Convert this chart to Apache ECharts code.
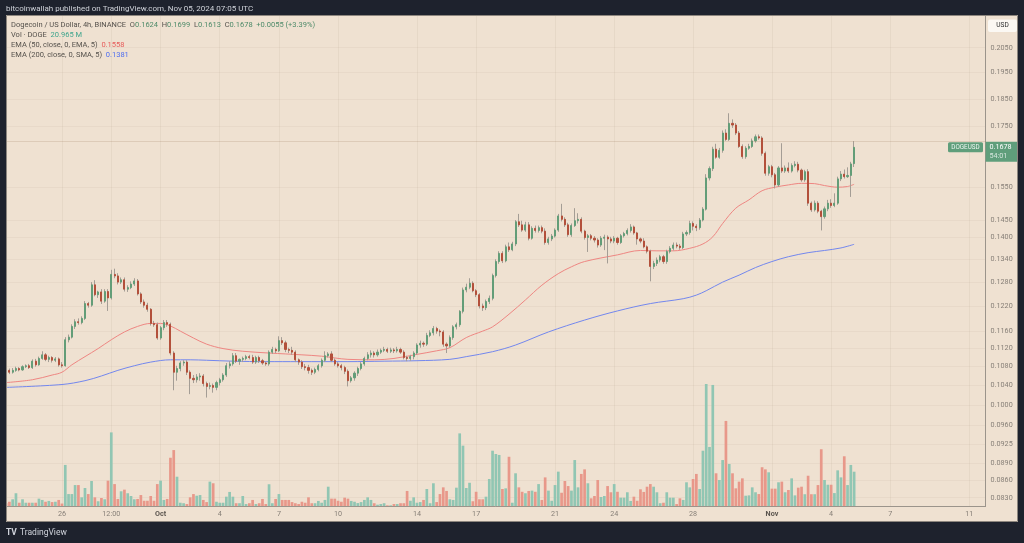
<!DOCTYPE html>
<html><head><meta charset="utf-8">
<script src="https://cdn.jsdelivr.net/npm/echarts@6/dist/echarts.min.js"></script>
<style>html,body{margin:0;padding:0;background:#1e222d;}#c{width:1024px;height:543px;}</style>
</head><body><div id="c"></div>
<script>
// ---------- DATA ----------
const firstBarUTC = Date.UTC(2024, 8, 23, 4, 0); // first 4h bar: 2024-09-23 04:00 UTC
const barHours = 4;
const categoryCount = 299; // axis runs to ~2024-11-12
// [open, high, low, close] per 4h bar
const candles = [
[0.1089,0.1092,0.1068,0.1072],[0.1072,0.1076,0.1064,0.1068],[0.1068,0.1077,0.1065,0.1072],[0.1072,0.1080,0.1069,0.1076],[0.1076,0.1079,0.1070,0.1073],
[0.1073,0.1083,0.1071,0.1080],[0.1080,0.1085,0.1077,0.1082],[0.1082,0.1086,0.1075,0.1078],[0.1078,0.1096,0.1075,0.1092],[0.1092,0.1097,0.1080,0.1084],
[0.1084,0.1102,0.1082,0.1098],[0.1098,0.1114,0.1095,0.1106],[0.1106,0.1110,0.1092,0.1096],[0.1096,0.1104,0.1090,0.1100],[0.1100,0.1103,0.1089,0.1094],
[0.1094,0.1101,0.1090,0.1097],[0.1097,0.1100,0.1080,0.1084],[0.1084,0.1090,0.1078,0.1082],[0.1082,0.1146,0.1080,0.1140],[0.1140,0.1152,0.1134,0.1146],
[0.1146,0.1176,0.1143,0.1171],[0.1171,0.1188,0.1165,0.1182],[0.1182,0.1190,0.1175,0.1180],[0.1180,0.1195,0.1176,0.1190],[0.1190,0.1232,0.1186,0.1226],
[0.1226,0.1230,0.1216,0.1222],[0.1222,0.1280,0.1218,0.1273],[0.1273,0.1285,0.1244,0.1248],[0.1248,0.1258,0.1240,0.1255],[0.1255,0.1262,0.1225,0.1232],
[0.1232,0.1262,0.1228,0.1256],[0.1256,0.1262,0.1208,0.1240],[0.1240,0.1312,0.1236,0.1300],[0.1300,0.1315,0.1290,0.1296],[0.1296,0.1303,0.1274,0.1280],
[0.1280,0.1292,0.1275,0.1286],[0.1286,0.1292,0.1256,0.1262],[0.1262,0.1272,0.1255,0.1266],[0.1266,0.1282,0.1262,0.1275],[0.1275,0.1290,0.1270,0.1283],
[0.1283,0.1288,0.1246,0.1250],[0.1250,0.1254,0.1225,0.1230],[0.1230,0.1236,0.1216,0.1222],[0.1222,0.1228,0.1206,0.1212],[0.1212,0.1215,0.1173,0.1178],
[0.1178,0.1184,0.1170,0.1175],[0.1175,0.1180,0.1140,0.1144],[0.1144,0.1172,0.1140,0.1168],[0.1168,0.1186,0.1162,0.1180],[0.1180,0.1186,0.1170,0.1176],
[0.1176,0.1180,0.1105,0.1110],[0.1110,0.1114,0.1030,0.1068],[0.1068,0.1082,0.1050,0.1076],[0.1076,0.1092,0.1070,0.1088],[0.1088,0.1094,0.1082,0.1090],
[0.1090,0.1094,0.1062,0.1068],[0.1068,0.1072,0.1022,0.1055],[0.1055,0.1062,0.1045,0.1052],[0.1052,0.1064,0.1046,0.1058],[0.1058,0.1066,0.1050,0.1060],
[0.1060,0.1064,0.1038,0.1044],[0.1044,0.1048,0.1015,0.1038],[0.1038,0.1046,0.1032,0.1040],[0.1040,0.1044,0.1025,0.1036],[0.1036,0.1050,0.1030,0.1046],
[0.1046,0.1056,0.1040,0.1052],[0.1052,0.1066,0.1048,0.1062],[0.1062,0.1088,0.1058,0.1082],[0.1082,0.1092,0.1076,0.1086],[0.1086,0.1110,0.1082,0.1104],
[0.1104,0.1110,0.1088,0.1092],[0.1092,0.1098,0.1084,0.1096],[0.1096,0.1102,0.1090,0.1098],[0.1098,0.1106,0.1094,0.1102],[0.1102,0.1106,0.1096,0.1100],
[0.1100,0.1106,0.1086,0.1090],[0.1090,0.1104,0.1086,0.1100],[0.1100,0.1104,0.1088,0.1093],[0.1093,0.1097,0.1084,0.1088],[0.1088,0.1092,0.1082,0.1086],
[0.1086,0.1116,0.1082,0.1112],[0.1112,0.1124,0.1108,0.1118],[0.1118,0.1122,0.1110,0.1115],[0.1115,0.1148,0.1112,0.1138],[0.1138,0.1146,0.1128,0.1133],
[0.1133,0.1138,0.1112,0.1118],[0.1118,0.1122,0.1110,0.1116],[0.1116,0.1124,0.1106,0.1112],[0.1112,0.1116,0.1090,0.1095],[0.1095,0.1098,0.1084,0.1090],
[0.1090,0.1094,0.1075,0.1080],[0.1080,0.1086,0.1072,0.1078],[0.1078,0.1084,0.1065,0.1072],[0.1072,0.1076,0.1062,0.1068],[0.1068,0.1078,0.1064,0.1074],
[0.1074,0.1086,0.1070,0.1082],[0.1082,0.1098,0.1078,0.1094],[0.1094,0.1114,0.1090,0.1104],[0.1104,0.1112,0.1100,0.1108],[0.1108,0.1114,0.1090,0.1094],
[0.1094,0.1098,0.1082,0.1086],[0.1086,0.1090,0.1078,0.1082],[0.1082,0.1086,0.1072,0.1078],[0.1078,0.1082,0.1064,0.1070],[0.1070,0.1074,0.1038,0.1050],
[0.1050,0.1060,0.1046,0.1056],[0.1056,0.1070,0.1050,0.1066],[0.1066,0.1080,0.1060,0.1076],[0.1076,0.1090,0.1072,0.1086],[0.1086,0.1102,0.1082,0.1098],
[0.1098,0.1112,0.1094,0.1106],[0.1106,0.1116,0.1100,0.1110],[0.1110,0.1114,0.1100,0.1106],[0.1106,0.1118,0.1102,0.1112],[0.1112,0.1120,0.1108,0.1116],
[0.1116,0.1124,0.1112,0.1118],[0.1118,0.1122,0.1110,0.1114],[0.1114,0.1122,0.1110,0.1117],[0.1117,0.1121,0.1110,0.1115],[0.1115,0.1124,0.1111,0.1118],
[0.1118,0.1122,0.1108,0.1112],[0.1112,0.1116,0.1096,0.1100],[0.1100,0.1104,0.1092,0.1098],[0.1098,0.1106,0.1093,0.1102],[0.1102,0.1114,0.1096,0.1110],
[0.1110,0.1132,0.1106,0.1128],[0.1128,0.1138,0.1122,0.1132],[0.1132,0.1136,0.1124,0.1130],[0.1130,0.1156,0.1126,0.1150],[0.1150,0.1162,0.1146,0.1156],
[0.1156,0.1172,0.1150,0.1166],[0.1166,0.1170,0.1154,0.1160],[0.1160,0.1164,0.1148,0.1158],[0.1158,0.1162,0.1124,0.1130],[0.1130,0.1134,0.1110,0.1126],
[0.1126,0.1150,0.1122,0.1145],[0.1145,0.1174,0.1140,0.1170],[0.1170,0.1180,0.1164,0.1175],[0.1175,0.1210,0.1170,0.1207],[0.1207,0.1266,0.1202,0.1260],
[0.1260,0.1276,0.1254,0.1267],[0.1267,0.1290,0.1262,0.1277],[0.1277,0.1282,0.1254,0.1258],[0.1258,0.1262,0.1242,0.1248],[0.1248,0.1252,0.1214,0.1220],
[0.1220,0.1226,0.1208,0.1216],[0.1216,0.1236,0.1210,0.1231],[0.1231,0.1246,0.1225,0.1239],[0.1239,0.1302,0.1234,0.1297],[0.1297,0.1340,0.1292,0.1334],
[0.1334,0.1362,0.1328,0.1356],[0.1356,0.1362,0.1330,0.1336],[0.1336,0.1380,0.1332,0.1374],[0.1374,0.1386,0.1360,0.1366],[0.1366,0.1388,0.1362,0.1382],
[0.1382,0.1450,0.1376,0.1445],[0.1445,0.1468,0.1430,0.1436],[0.1436,0.1448,0.1416,0.1421],[0.1421,0.1445,0.1416,0.1436],[0.1436,0.1444,0.1392,0.1398],
[0.1398,0.1432,0.1394,0.1426],[0.1426,0.1434,0.1414,0.1420],[0.1420,0.1434,0.1414,0.1428],[0.1428,0.1434,0.1412,0.1418],[0.1418,0.1426,0.1380,0.1386],
[0.1386,0.1402,0.1380,0.1396],[0.1396,0.1410,0.1390,0.1404],[0.1404,0.1426,0.1400,0.1421],[0.1421,0.1468,0.1416,0.1462],[0.1462,0.1498,0.1446,0.1452],
[0.1452,0.1458,0.1430,0.1436],[0.1436,0.1442,0.1402,0.1408],[0.1408,0.1440,0.1402,0.1434],[0.1434,0.1485,0.1430,0.1448],[0.1448,0.1470,0.1440,0.1452],
[0.1452,0.1458,0.1412,0.1418],[0.1418,0.1422,0.1394,0.1400],[0.1400,0.1410,0.1360,0.1405],[0.1405,0.1410,0.1392,0.1398],[0.1398,0.1404,0.1386,0.1393],
[0.1393,0.1398,0.1372,0.1379],[0.1379,0.1404,0.1374,0.1398],[0.1398,0.1408,0.1365,0.1401],[0.1401,0.1406,0.1329,0.1396],[0.1396,0.1402,0.1384,0.1390],
[0.1390,0.1404,0.1384,0.1398],[0.1398,0.1402,0.1380,0.1386],[0.1386,0.1410,0.1382,0.1405],[0.1405,0.1416,0.1400,0.1411],[0.1411,0.1426,0.1406,0.1420],
[0.1420,0.1438,0.1414,0.1430],[0.1430,0.1434,0.1408,0.1413],[0.1413,0.1416,0.1380,0.1396],[0.1396,0.1400,0.1384,0.1390],[0.1390,0.1398,0.1370,0.1374],
[0.1374,0.1378,0.1356,0.1362],[0.1362,0.1366,0.1282,0.1321],[0.1321,0.1336,0.1314,0.1329],[0.1329,0.1345,0.1322,0.1338],[0.1338,0.1352,0.1332,0.1347],
[0.1347,0.1352,0.1328,0.1334],[0.1334,0.1366,0.1328,0.1361],[0.1361,0.1376,0.1356,0.1370],[0.1370,0.1386,0.1364,0.1379],[0.1379,0.1386,0.1370,0.1376],
[0.1376,0.1382,0.1366,0.1372],[0.1372,0.1416,0.1368,0.1410],[0.1410,0.1420,0.1404,0.1414],[0.1414,0.1448,0.1408,0.1440],[0.1440,0.1446,0.1420,0.1432],
[0.1432,0.1438,0.1418,0.1428],[0.1428,0.1456,0.1422,0.1450],[0.1450,0.1488,0.1446,0.1482],[0.1482,0.1590,0.1478,0.1578],[0.1578,0.1615,0.1570,0.1608],
[0.1608,0.1680,0.1600,0.1672],[0.1672,0.1690,0.1640,0.1645],[0.1645,0.1676,0.1640,0.1668],[0.1668,0.1736,0.1660,0.1727],[0.1727,0.1740,0.1700,0.1705],
[0.1705,0.1797,0.1700,0.1761],[0.1761,0.1775,0.1745,0.1755],[0.1755,0.1762,0.1720,0.1727],[0.1727,0.1734,0.1676,0.1681],[0.1681,0.1688,0.1640,0.1647],
[0.1647,0.1682,0.1640,0.1675],[0.1675,0.1690,0.1670,0.1681],[0.1681,0.1708,0.1676,0.1700],[0.1700,0.1722,0.1694,0.1714],[0.1714,0.1722,0.1704,0.1710],
[0.1710,0.1716,0.1650,0.1658],[0.1658,0.1664,0.1585,0.1593],[0.1593,0.1620,0.1585,0.1614],[0.1614,0.1620,0.1580,0.1588],[0.1588,0.1594,0.1545,0.1556],
[0.1556,0.1616,0.1550,0.1610],[0.1610,0.1692,0.1594,0.1600],[0.1600,0.1618,0.1594,0.1610],[0.1610,0.1628,0.1594,0.1600],[0.1600,0.1625,0.1595,0.1618],
[0.1618,0.1632,0.1612,0.1622],[0.1622,0.1630,0.1596,0.1603],[0.1603,0.1608,0.1566,0.1572],[0.1572,0.1604,0.1566,0.1598],[0.1598,0.1606,0.1492,0.1500],
[0.1500,0.1505,0.1474,0.1480],[0.1480,0.1508,0.1475,0.1500],[0.1500,0.1506,0.1470,0.1476],[0.1476,0.1480,0.1420,0.1460],[0.1460,0.1490,0.1454,0.1483],
[0.1483,0.1510,0.1476,0.1500],[0.1500,0.1512,0.1486,0.1493],[0.1493,0.1530,0.1488,0.1500],[0.1500,0.1582,0.1495,0.1575],[0.1575,0.1600,0.1568,0.1590],
[0.1590,0.1605,0.1576,0.1582],[0.1582,0.1612,0.1578,0.1586],[0.1586,0.1630,0.1519,0.1623],[0.1624,0.1699,0.1613,0.1678]
];
// volume per bar, millions of DOGE
const volumes = [
1.7,2.6,4.1,7.8,2.0,4.1,2.0,2.0,2.0,2.0, 4.5,3.7,2.6,3.1,2.4,2.6,3.7,1.5,25.1,7.3,
7.3,12.8,12.8,5.3,11.0,7.3,15.3,5.3,2.9,4.9, 4.1,15.5,45.0,13.4,4.3,9.0,10.0,7.8,6.1,4.1,
4.3,6.7,3.2,3.2,6.1,3.2,13.4,15.5,3.7,4.3, 29.5,34.2,17.9,2.0,1.7,1.2,5.3,7.3,6.3,6.7,
3.7,2.4,14.9,13.9,2.6,2.0,2.0,5.7,8.6,5.7, 1.7,1.7,6.1,1.2,1.7,3.7,1.2,1.7,4.3,1.2,
13.3,1.7,4.3,7.3,3.7,3.7,3.7,2.4,1.7,1.2, 2.6,2.0,5.3,1.7,1.7,3.1,2.0,3.7,11.8,4.5,
4.5,3.2,2.6,5.1,4.5,3.1,2.6,1.8,2.4,3.7, 5.3,3.7,1.7,0.8,1.2,1.7,0.4,0.4,1.2,1.2,
1.7,1.7,9.2,3.2,5.3,2.0,2.4,3.7,10.4,1.7, 13.9,2.4,7.3,11.4,9.2,4.1,3.7,11.2,44.4,36.9,
11.0,14.2,2.9,8.7,4.1,4.1,5.7,16.5,33.8,31.8, 31.2,10.4,10.8,30.1,2.0,20.0,11.4,8.7,7.8,9.2,
9.4,8.7,13.4,3.7,17.5,9.4,3.2,12.8,21.0,8.1, 15.3,12.2,9.4,28.1,11.4,19.6,22.4,13.9,4.7,6.1,
15.9,5.5,6.1,12.2,8.4,13.4,8.7,5.1,5.1,8.4, 3.1,5.7,3.2,10.2,8.6,11.8,13.4,11.8,8.4,1.7,
2.0,8.4,5.1,5.1,1.2,4.7,3.7,14.5,11.4,16.5, 19.6,10.4,33.8,74.6,36.1,74.0,20.0,15.9,28.1,52.0,
25.7,20.0,10.8,14.9,16.9,6.3,6.5,11.4,8.4,7.3, 23.7,22.4,20.6,10.6,10.6,14.5,14.9,8.4,9.8,16.9,
6.5,11.2,11.8,7.2,18.5,7.2,7.2,12.8,34.7,15.9, 13.0,13.0,7.9,21.8,17.5,30.4,12.8,25.1,20.965
];
// EMA lines: [bar index, value]
const ema50 = [[0,0.1046],[8,0.1052],[14,0.1062],[17,0.1068],[20,0.1084],[24,0.1102],[28,0.1120],[32,0.1140],[36,0.1158],[40,0.1171],[44,0.1178],[47,0.1178],[50,0.1172],[53,0.1160],[57,0.1144],[61,0.1130],[66,0.1120],[72,0.1114],[80,0.1110],[90,0.1106],[96,0.1103],[104,0.1096],[112,0.1095],[118,0.1098],[125,0.1107],[131,0.1115],[135,0.1122],[140,0.1145],[145,0.1160],[148,0.1170],[153,0.1200],[158,0.1235],[163,0.1272],[168,0.1302],[172,0.1320],[176,0.1334],[186,0.1352],[193,0.1364],[198,0.1363],[203,0.1363],[208,0.1370],[212,0.1382],[215,0.1402],[218,0.1440],[222,0.1485],[226,0.1510],[230,0.1538],[234,0.1549],[238,0.1556],[242,0.1561],[246,0.1560],[249,0.1554],[253,0.1549],[256,0.1551],[258,0.1558]];
const ema200 = [[0,0.1036],[17,0.1042],[24,0.1050],[29,0.1060],[34,0.1072],[39,0.1082],[44,0.1090],[50,0.1095],[56,0.1095],[61,0.1094],[69,0.1092],[79,0.1091],[89,0.1091],[104,0.1091],[115,0.1092],[125,0.1093],[135,0.1096],[140,0.1102],[148,0.1113],[155,0.1128],[165,0.1158],[176,0.1186],[186,0.1208],[196,0.1226],[206,0.1238],[210,0.1247],[213,0.1258],[218,0.1280],[223,0.1298],[228,0.1318],[233,0.1334],[238,0.1347],[244,0.1358],[249,0.1364],[254,0.1371],[258,0.1381]];
const priceTicks = [0.2050,0.1950,0.1850,0.1750,0.1550,0.1450,0.1400,0.1340,0.1280,0.1220,0.1160,0.1120,0.1080,0.1040,0.1000,0.0960,0.0925,0.0890,0.0860,0.0830];
const timeTicks = [['2024-09-26 00:00','26'],['2024-09-28 12:00','12:00'],['2024-10-01 00:00','Oct'],['2024-10-04 00:00','4'],['2024-10-07 00:00','7'],['2024-10-10 00:00','10'],['2024-10-14 00:00','14'],['2024-10-17 00:00','17'],['2024-10-21 00:00','21'],['2024-10-24 00:00','24'],['2024-10-28 00:00','28'],['2024-11-01 00:00','Nov'],['2024-11-04 00:00','4'],['2024-11-07 00:00','7'],['2024-11-11 00:00','11']];
const priceMin = 0.08163, priceMax = 0.21892;
const countdown = '54:01';

// ---------- STYLE ----------
const BG = '#efe1d1', DARK = '#1e222d';
const UP = '#639d78', DOWN = '#b3503b', WICK = '#a49d95';
const VUP = '#91c6b3', VDOWN = '#e8988a';
const TAG = '#5f9e7b';
const FONT = 'Roboto, "Noto Sans", sans-serif';

const pad = n => String(n).padStart(2, '0');
const cats = [];
for (let i = 0; i < categoryCount; i++) {
  const d = new Date(firstBarUTC + i * barHours * 3600000);
  cats.push(`${d.getUTCFullYear()}-${pad(d.getUTCMonth()+1)}-${pad(d.getUTCDate())} ${pad(d.getUTCHours())}:${pad(d.getUTCMinutes())}`);
}
const tickMap = new Map(timeTicks);
const isTick = (idx) => tickMap.has(cats[idx]);

const chart = echarts.init(document.getElementById('c'), null, {renderer: 'canvas', devicePixelRatio: 1});

const option = {
  backgroundColor: BG,
  animation: false,
  grid: [
    {left: 6.1, right: 38.4, top: 15, bottom: 37},
    {left: 6.1, right: 38.4, top: 356, bottom: 37}
  ],
  xAxis: [
    {type: 'category', gridIndex: 0, data: cats, boundaryGap: false,
     axisLine: {show: true, lineStyle: {color: '#9b948b', width: 1}},
     axisTick: {show: false},
     axisLabel: {interval: isTick, margin: 5, color: '#867f77', fontSize: 7.2, fontFamily: FONT,
       formatter: v => { const t = tickMap.get(v) || ''; return (t === 'Oct' || t === 'Nov') ? `{b|${t}}` : t; },
       rich: {b: {fontWeight: 'bold', color: '#5b554f', fontSize: 7.2, fontFamily: FONT}}},
     splitLine: {show: true, interval: isTick, lineStyle: {color: 'rgba(110,80,50,0.06)', width: 1}}},
    {type: 'category', gridIndex: 1, data: cats, boundaryGap: false, show: false}
  ],
  yAxis: [
    {type: 'log', gridIndex: 0, position: 'right', min: priceMin, max: priceMax,
     axisLine: {show: true, lineStyle: {color: '#9b948b', width: 1}},
     axisTick: {show: false, customValues: priceTicks},
     axisLabel: {customValues: priceTicks, formatter: v => Number(v).toFixed(4), margin: 5,
       color: '#867f77', fontSize: 7.2, fontFamily: FONT},
     splitLine: {show: true, lineStyle: {color: 'rgba(110,80,50,0.05)', width: 1}}},
    {type: 'value', gridIndex: 1, min: 0, max: 91.7, show: false, splitLine: {show: false}}
  ],
  series: [
    {type: 'bar', xAxisIndex: 1, yAxisIndex: 1, barWidth: 2.7, silent: true, z: 1,
     data: volumes.map((v, i) => ({value: v, itemStyle: {color: candles[i][3] >= candles[i][0] ? VUP : VDOWN}}))},
    {type: 'line', xAxisIndex: 0, yAxisIndex: 0, data: ema200, showSymbol: false, smooth: 0.35, silent: true, z: 2,
     lineStyle: {color: '#7387ee', width: 1}},
    {type: 'line', xAxisIndex: 0, yAxisIndex: 0, data: ema50, showSymbol: false, smooth: 0.35, silent: true, z: 2,
     lineStyle: {color: '#ee8682', width: 1}},
    {type: 'candlestick', xAxisIndex: 0, yAxisIndex: 0, barWidth: 1, silent: true, z: 3,
     data: candles.map(([o, h, l, c]) => [o, c, l, h]),
     itemStyle: {color: WICK, color0: WICK, borderColor: WICK, borderColor0: WICK, borderWidth: 1}},
    {type: 'candlestick', xAxisIndex: 0, yAxisIndex: 0, barWidth: 1.6, silent: true, z: 4,
     data: candles.map(([o, h, l, c]) => [o, c, Math.min(o, c), Math.max(o, c)]),
     itemStyle: {color: UP, color0: DOWN, borderColor: UP, borderColor0: DOWN, borderWidth: 1},
     markLine: {symbol: 'none', silent: true, label: {show: false},
       lineStyle: {color: 'rgba(150,115,85,0.2)', type: 'solid', width: 1},
       data: [{yAxis: candles[candles.length - 1][3]}]}}
  ]
};
chart.setOption(option);

// ---------- overlay texts / frame ----------
const last = candles[candles.length - 1];
const prevClose = candles[candles.length - 2][3];
const chg = last[3] - prevClose;
const f4 = v => v.toFixed(4);
const py = chart.convertToPixel({yAxisIndex: 0}, last[3]);
const font = (s, w) => `${w || 'normal'} ${s}px ${FONT}`;
const txt = (x, y, text, fill, size, extra) => Object.assign({type: 'text', x, y, z: 120, silent: true,
  style: Object.assign({text, fill, font: font(size), align: 'left', verticalAlign: 'middle'}, extra || {})});
const rect = (x, y, w, h, fill, extra) => Object.assign({type: 'rect', z: 110, silent: true,
  shape: {x, y, width: w, height: h, r: (extra && extra.r) || 0}, style: {fill}}, extra && extra.el || {});

const GRAY = '#55514c', VALG = '#4d8a69';
const rich = {
  t: {fill: GRAY, font: font(7.5)},
  k: {fill: GRAY, font: font(7.5)},
  v: {fill: VALG, font: font(7.5)},
  vol: {fill: '#3ea58d', font: font(7.5)},
  r: {fill: '#e65c5a', font: font(7.5)},
  b: {fill: '#4f6ef0', font: font(7.5)}
};
const sign = chg >= 0 ? '+' : '';
const line1 = `{t|Dogecoin / US Dollar, 4h, BINANCE}  {k|O}{v|${f4(last[0])}}  {k|H}{v|${f4(last[1])}}  {k|L}{v|${f4(last[2])}}  {k|C}{v|${f4(last[3])}}  {v|${sign}${f4(chg)} (${sign}${(chg / prevClose * 100).toFixed(2)}%)}`;
const line2 = `{t|Vol · DOGE}  {vol|${volumes[volumes.length - 1].toFixed(3)} M}`;
const line3 = `{t|EMA (50, close, 0, EMA, 5)}  {r|${f4(ema50[ema50.length - 1][1])}}`;
const line4 = `{t|EMA (200, close, 0, SMA, 5)}  {b|${f4(ema200[ema200.length - 1][1])}}`;

const elements = [
  rect(0, 0, 1024, 15, DARK), rect(0, 0, 6, 543, DARK), rect(1018, 0, 6, 543, DARK), rect(0, 522, 1024, 21, DARK),
  {type: 'rect', z: 111, silent: true, shape: {x: 6.5, y: 15.5, width: 1011, height: 506}, style: {fill: 'none', stroke: '#8d867e', lineWidth: 1}},
  txt(6, 8.5, 'bitcoinwallah published on TradingView.com, Nov 05, 2024 07:05 UTC', '#cfd2d9', 8),
  txt(11, 25, line1, GRAY, 7.5, {rich}),
  txt(11, 35, line2, GRAY, 7.5, {rich}),
  txt(11, 45, line3, GRAY, 7.5, {rich}),
  txt(11, 55, line4, GRAY, 7.5, {rich}),
  rect(988, 19.5, 29, 12.5, '#fbf8f3', {r: 2}),
  txt(1002.5, 25.8, 'USD', '#2e2e2e', 6.6, {align: 'center'}),
  rect(948, py - 5, 35, 10, TAG, {r: 1.5}),
  txt(965.5, py, 'DOGEUSD', '#eef6f1', 6.3, {align: 'center'}),
  rect(985.6, py - 5.5, 32, 20, TAG),
  txt(989.5, py, f4(last[3]), '#ffffff', 7.2),
  txt(989.5, py + 9, countdown, 'rgba(255,255,255,0.75)', 7.2),
  txt(6, 533, 'TV', '#d1d4dc', 8.5, {font: font(8.5, 'bold')}),
  txt(20, 533, 'TradingView', '#d1d4dc', 8.5)
];
chart.setOption({graphic: {elements}});
</script></body></html>
